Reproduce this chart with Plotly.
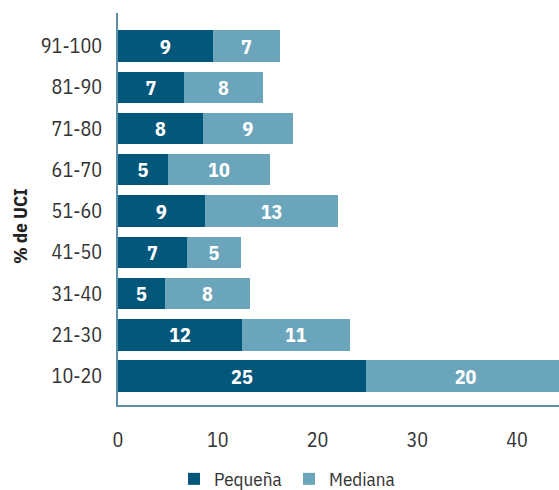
import plotly.graph_objects as go

categories = ["10-20", "21-30", "31-40", "41-50", "51-60", "61-70", "71-80", "81-90", "91-100"]
pequena = [24.85, 12.42, 4.71, 6.91, 8.72, 5.01, 8.52, 6.61, 9.52]
mediana = [20.0, 10.83, 8.52, 5.41, 13.32, 10.22, 9.01, 7.92, 6.71]
pequena_labels = [25, 12, 5, 7, 9, 5, 8, 7, 9]
mediana_labels = [20, 11, 8, 5, 13, 10, 9, 8, 7]
x_ticks = [0, 10, 20, 30, 40]

FONT = "IBM Plex Sans Condensed, DejaVu Sans Condensed, sans-serif"
DARK = "#03577A"
LIGHT = "#6AA5BB"
AXIS = "#5A90A8"

fig = go.Figure()
fig.add_trace(go.Bar(
    y=categories, x=pequena, orientation="h", name="Pequeña",
    marker=dict(color=DARK, line=dict(width=0)),
    text=[str(v) for v in pequena_labels], textposition="inside",
    insidetextanchor="middle", textangle=0, constraintext="none",
    textfont=dict(family=FONT, size=20, color="white", weight="bold"),
))
fig.add_trace(go.Bar(
    y=categories, x=mediana, orientation="h", name="Mediana",
    marker=dict(color=LIGHT, line=dict(width=0)),
    text=[str(v) for v in mediana_labels], textposition="inside",
    insidetextanchor="middle", textangle=0, constraintext="none",
    textfont=dict(family=FONT, size=20, color="white", weight="bold"),
))

fig.update_layout(
    width=559, height=490,
    margin=dict(l=118, r=0, t=13, b=85, autoexpand=False),
    barmode="stack", bargap=0.24,
    plot_bgcolor="white", paper_bgcolor="white",
    font=dict(family=FONT, size=19, color="#333333"),
    showlegend=True,
    legend=dict(
        orientation="h", x=0.127, xanchor="left",
        yref="container", y=1 - 479 / 490, yanchor="middle",
        font=dict(family=FONT, size=19, color="#333333"),
        entrywidth=70, entrywidthmode="pixels",
        traceorder="normal",
    ),
)
fig.update_xaxes(
    range=[0, 44.2], tickvals=x_ticks, ticktext=[str(t) for t in x_ticks],
    showgrid=False, zeroline=False, showline=True, linecolor=AXIS, linewidth=2,
    ticks="", ticklabelstandoff=16,
    tickfont=dict(family=FONT, size=20, color="#333333"),
)
fig.update_yaxes(
    type="category", categoryorder="array", categoryarray=categories,
    range=[-0.70, 8.80],
    showgrid=False, zeroline=False, showline=True, linecolor=AXIS, linewidth=2,
    ticks="", ticklabelstandoff=10,
    tickfont=dict(family=FONT, size=20, color="#333333"),
)
fig.add_annotation(
    text="<b>% de UCI</b>", xref="paper", yref="paper",
    x=(20 - 118) / 441, y=(405 - 226) / 392, xanchor="center", yanchor="middle",
    textangle=-90, showarrow=False,
    font=dict(family=FONT, size=19, color="#222222"),
)

fig.write_html(
    "out.html",
    config={"displayModeBar": False},
    post_script="document.body.style.margin='0';document.body.style.overflow='hidden';",
)
